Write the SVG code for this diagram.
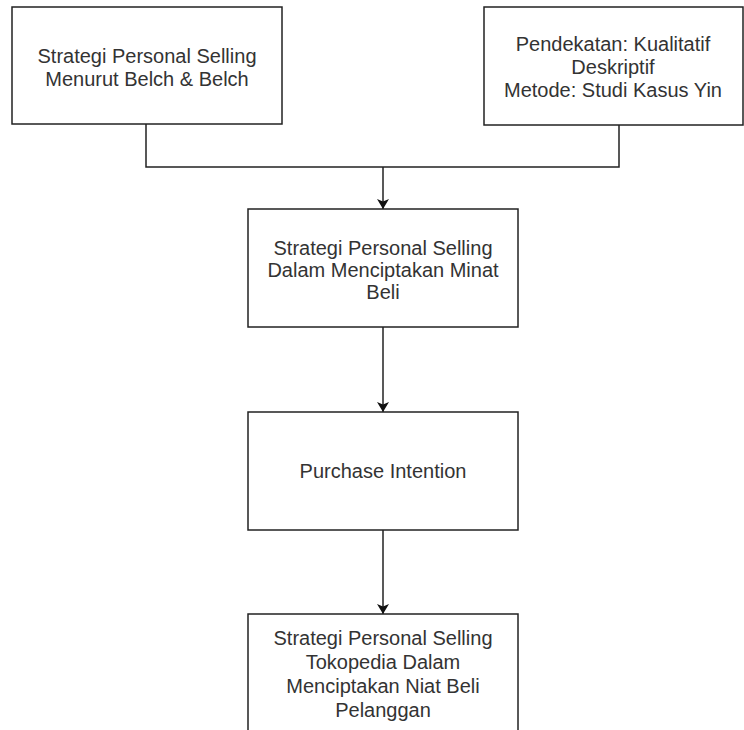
<svg xmlns="http://www.w3.org/2000/svg" width="744" height="730" viewBox="0 0 744 730">
<style>
.box{fill:#fff;stroke:#222;stroke-width:1.5}
.t{font-family:"Liberation Sans",Arial,sans-serif;font-size:20px;fill:#333;text-anchor:middle}
.c{fill:none;stroke:#222;stroke-width:1.5}
</style>
<defs>
<marker id="ah" viewBox="0 0 10 12" refX="10" refY="6" markerWidth="10" markerHeight="12" markerUnits="userSpaceOnUse" orient="auto">
<path d="M0,0 L10,6 L0,12 L2.5,6 Z" fill="#111"/>
</marker>
</defs>
<rect width="744" height="730" fill="#fff"/>
<g id="connectors">
<path class="c" d="M146,124 V167 H619 V125"/>
<path class="c" d="M383,167 V209" marker-end="url(#ah)"/>
<path class="c" d="M383,327 V412" marker-end="url(#ah)"/>
<path class="c" d="M383,530 V614" marker-end="url(#ah)"/>
</g>
<g id="n1">
<rect class="box" x="12" y="7" width="270" height="117"/>
<text class="t" x="147" y="63">Strategi Personal Selling</text>
<text class="t" x="147" y="86">Menurut Belch &amp; Belch</text>
</g>
<g id="n2">
<rect class="box" x="484" y="7" width="259" height="118"/>
<text class="t" x="613" y="51">Pendekatan: Kualitatif</text>
<text class="t" x="613" y="74">Deskriptif</text>
<text class="t" x="613" y="97">Metode: Studi Kasus Yin</text>
</g>
<g id="n3">
<rect class="box" x="248" y="209" width="270" height="118"/>
<text class="t" x="383" y="255">Strategi Personal Selling</text>
<text class="t" x="383" y="277">Dalam Menciptakan Minat</text>
<text class="t" x="383" y="299">Beli</text>
</g>
<g id="n4">
<rect class="box" x="248" y="412" width="270" height="118"/>
<text class="t" x="383" y="478">Purchase Intention</text>
</g>
<g id="n5">
<rect class="box" x="248" y="614" width="270" height="130"/>
<text class="t" x="383" y="645">Strategi Personal Selling</text>
<text class="t" x="383" y="669">Tokopedia Dalam</text>
<text class="t" x="383" y="693">Menciptakan Niat Beli</text>
<text class="t" x="383" y="717">Pelanggan</text>
</g>
</svg>
